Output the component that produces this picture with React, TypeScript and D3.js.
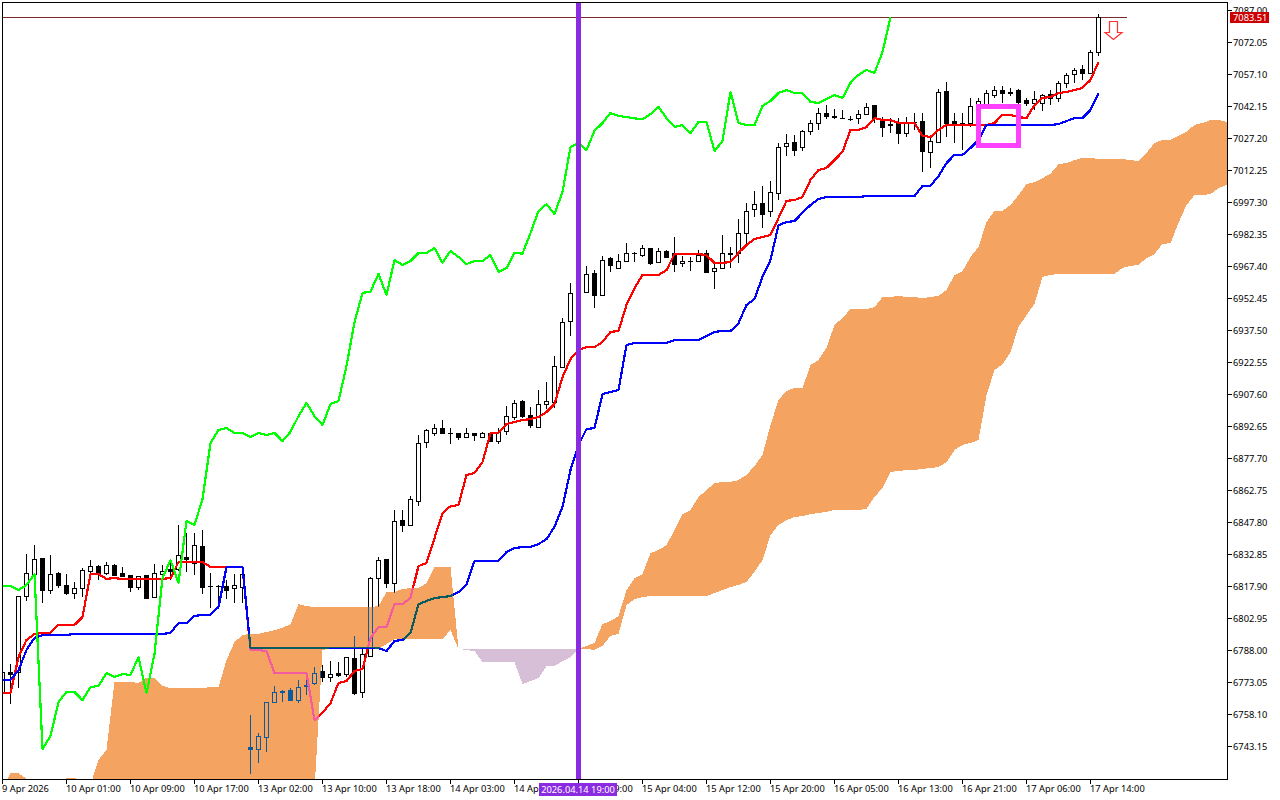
import React from "react";
import * as d3 from "d3";

const priceTicks = [7087.0,7072.05,7057.1,7042.15,7027.2,7012.25,6997.3,6982.35,6967.4,6952.45,6937.5,6922.55,6907.6,6892.65,6877.7,6862.75,6847.8,6832.85,6817.9,6802.95,6788.0,6773.05,6758.1,6743.15];
const timeLabels = ["9 Apr 2026","10 Apr 01:00","10 Apr 09:00","10 Apr 17:00","13 Apr 02:00","13 Apr 10:00","13 Apr 18:00","14 Apr 03:00","14 Apr 11:00","14 Apr 19:00","15 Apr 04:00","15 Apr 12:00","15 Apr 20:00","16 Apr 05:00","16 Apr 13:00","16 Apr 21:00","17 Apr 06:00","17 Apr 14:00"];
const barsPerLabel = 8;
const lastPrice = 7083.51;
const markerBar = 72;
const markerLabel = "2026.04.14 19:00";

const opens = [
6767.9,6777.7,6777.7,6813.2,6823.5,6831.0,6816.0,6824.0,6818.4,6814.6,
6816.9,6824.9,6827.2,6824.0,6827.7,6824.0,6823.0,6817.4,6823.0,6812.7,
6823.5,6825.8,6825.8,6831.4,6828.6,6836.6,6817.9,6817.9,6817.9,6816.9,
6817.4,6742.6,6741.7,6747.3,6763.7,6768.9,6769.3,6764.6,6771.6,6772.6,
6778.2,6775.4,6777.2,6776.8,6784.2,6768.4,6785.2,6821.6,6830.5,6819.3,
6848.7,6846.4,6857.6,6885.2,6889.4,6891.7,6889.4,6889.4,6887.5,6889.4,
6887.5,6889.4,6885.6,6890.3,6896.8,6904.3,6897.8,6892.2,6902.9,6903.9,
6920.2,6941.7,6955.0,6955.3,6964.2,6953.9,6971.2,6966.5,6969.7,6973.5,
6972.5,6975.8,6969.3,6974.4,6973.5,6968.8,6969.7,6969.7,6973.5,6965.0,
6966.4,6973.5,6973.5,6982.8,6994.0,6996.8,6993.1,7001.6,7023.5,7025.3,
7023.0,7030.5,7034.2,7038.9,7037.5,7036.5,7036.0,7036.5,7038.4,7042.6,
7035.1,7033.7,7034.7,7029.5,7034.7,7035.1,7020.7,7025.3,7049.2,7035.1,
7034.2,7034.2,7042.2,7042.7,7047.3,7049.6,7048.7,7049.6,7045.0,7043.6,
7043.6,7047.8,7045.9,7052.9,7057.1,7059.5,7057.6,7067.6];
const highs = [
6780.5,6781.4,6813.2,6832.8,6837.0,6831.0,6832.4,6824.5,6823.5,6819.8,
6826.3,6830.0,6827.7,6829.1,6828.2,6826.8,6823.0,6822.6,6823.0,6828.2,
6827.7,6829.1,6846.4,6842.6,6842.6,6844.0,6824.0,6818.4,6820.7,6823.5,
6823.5,6757.7,6749.2,6763.7,6771.2,6769.3,6770.2,6774.0,6774.0,6780.0,
6781.0,6782.8,6782.4,6784.7,6794.5,6788.5,6822.1,6831.4,6830.5,6853.4,
6853.4,6860.0,6888.5,6891.2,6893.6,6895.4,6891.7,6889.4,6891.7,6889.4,
6889.9,6889.4,6891.7,6902.0,6904.8,6904.8,6901.5,6909.5,6913.2,6925.4,
6943.1,6959.5,6958.0,6967.4,6965.5,6972.1,6971.6,6973.0,6978.1,6974.0,
6977.2,6975.8,6975.8,6974.9,6981.0,6972.1,6971.6,6974.9,6974.9,6968.3,
6981.9,6976.3,6989.4,6996.8,7002.4,7004.7,7007.2,7024.9,7029.1,7028.6,
7031.0,7035.6,7041.2,7042.6,7040.7,7040.3,7037.5,7040.3,7043.6,7042.6,
7037.0,7036.5,7036.5,7037.0,7038.9,7038.9,7027.7,7050.1,7053.4,7038.9,
7038.9,7045.9,7045.9,7049.6,7051.4,7051.4,7050.6,7050.1,7045.9,7049.2,
7047.8,7049.6,7053.8,7057.6,7059.9,7061.3,7068.3,7085.1];
const lows = [
6767.9,6762.8,6770.2,6811.0,6821.6,6809.9,6814.1,6816.9,6813.7,6811.8,
6812.7,6823.0,6820.7,6823.0,6822.6,6822.1,6815.1,6816.0,6811.8,6812.7,
6820.7,6820.7,6824.9,6824.5,6823.0,6814.1,6807.6,6808.0,6811.8,6809.9,
6810.0,6730.0,6735.2,6740.4,6763.2,6763.7,6764.1,6763.2,6766.9,6771.6,
6773.1,6773.1,6775.4,6775.4,6767.0,6765.5,6784.7,6808.0,6816.9,6814.6,
6843.1,6846.0,6855.2,6882.3,6888.0,6889.4,6884.2,6886.1,6887.0,6885.6,
6887.0,6885.1,6884.2,6888.5,6895.4,6896.4,6891.7,6891.7,6900.6,6901.0,
6919.7,6934.7,6950.0,6954.8,6947.8,6953.4,6964.6,6966.0,6969.3,6969.3,
6971.6,6967.9,6968.8,6971.1,6964.6,6966.9,6965.0,6969.3,6964.1,6956.6,
6966.0,6966.4,6968.8,6977.7,6990.3,6985.2,6990.3,6998.2,7018.9,7018.9,
7021.0,7028.6,7031.0,7036.0,7036.0,7036.3,7035.2,7033.7,7038.4,7034.2,
7027.7,7029.5,7024.4,7027.7,7031.0,7011.3,7013.2,7025.3,7027.7,7024.9,
7021.6,7032.3,7041.0,7041.0,7045.9,7043.6,7046.8,7042.6,7042.2,7040.3,
7040.0,7042.7,7044.0,7050.6,7052.9,7054.3,7057.0,7065.7];
const closes = [
6777.7,6776.8,6813.2,6824.0,6830.5,6816.0,6823.5,6818.4,6814.6,6816.9,
6825.4,6827.2,6824.0,6827.7,6823.0,6822.6,6817.4,6822.6,6812.3,6824.0,
6824.9,6824.9,6832.4,6830.5,6837.0,6817.4,6817.9,6818.0,6816.0,6818.4,
6823.5,6741.7,6747.8,6763.7,6768.4,6768.4,6764.6,6770.7,6771.2,6777.2,
6775.4,6776.8,6776.3,6784.7,6767.9,6786.1,6821.6,6830.0,6819.3,6848.3,
6846.4,6858.5,6884.7,6890.8,6891.7,6889.4,6889.4,6887.5,6889.4,6888.5,
6889.4,6885.6,6889.9,6897.3,6903.4,6897.3,6893.1,6902.9,6904.3,6920.7,
6941.2,6954.8,6955.5,6963.7,6953.9,6970.2,6967.9,6969.7,6973.5,6973.5,
6975.8,6968.8,6974.4,6971.6,6968.3,6969.7,6969.7,6972.5,6964.6,6966.4,
6973.5,6973.2,6982.8,6993.1,6996.3,6991.7,7002.0,7023.0,7024.9,7021.6,
7030.5,7034.2,7038.9,7037.5,7037.0,7036.4,7036.0,7038.4,7041.7,7036.5,
7032.4,7033.2,7029.5,7034.7,7034.7,7021.1,7025.8,7048.7,7034.2,7033.2,
7033.2,7042.2,7044.5,7048.2,7049.6,7048.2,7048.2,7044.0,7043.6,7045.4,
7047.3,7045.9,7052.9,7056.7,7059.0,7057.6,7067.4,7083.51];

const tenkan = [
6767.9,6767.9,6784.7,6792.7,6795.5,6796.0,6796.0,6799.7,6799.7,6799.7,
6803.4,6823.5,6823.5,6821.2,6821.6,6821.2,6821.2,6821.2,6821.2,6821.2,
6821.2,6821.6,6829.1,6829.1,6829.1,6829.1,6826.8,6826.8,6826.8,6826.8,
6826.8,6788.0,6788.0,6787.5,6777.2,6777.2,6777.2,6777.2,6777.2,6755.3,
6758.6,6763.2,6772.6,6773.5,6778.2,6779.1,6793.6,6798.7,6798.7,6809.4,
6809.4,6812.3,6827.2,6828.6,6840.3,6852.0,6855.2,6855.7,6869.8,6870.7,
6875.8,6889.4,6889.4,6893.6,6894.5,6895.4,6895.9,6896.8,6899.2,6902.9,
6915.5,6923.9,6928.1,6929.5,6929.5,6931.9,6936.6,6937.0,6949.2,6957.1,
6963.2,6963.2,6963.2,6965.5,6973.0,6973.0,6973.0,6973.0,6972.5,6968.8,
6968.8,6969.3,6973.5,6977.2,6980.0,6980.9,6981.9,6989.8,6997.8,6998.2,
6999.6,7007.6,7012.3,7013.2,7016.9,7020.7,7031.0,7031.0,7032.3,7036.5,
7035.6,7035.6,7034.2,7034.2,7034.2,7028.2,7027.7,7031.0,7033.3,7033.3,
7033.3,7033.3,7033.3,7033.3,7034.2,7038.0,7038.0,7037.0,7036.5,7042.6,
7045.9,7046.4,7048.2,7048.7,7049.6,7050.6,7054.3,7062.7];
const kijun = [
6774.0,6774.0,6778.6,6788.0,6793.6,6795.0,6795.0,6795.0,6795.0,6795.5,
6795.5,6795.5,6795.5,6795.5,6795.5,6795.5,6795.5,6795.5,6795.5,6795.5,
6795.5,6796.0,6800.6,6800.6,6803.9,6804.4,6804.4,6808.1,6826.8,6826.8,
6826.8,6788.9,6788.9,6788.9,6788.9,6788.9,6788.9,6788.9,6788.9,6788.9,
6788.9,6788.9,6788.9,6788.9,6788.9,6788.9,6788.9,6788.9,6787.5,6792.2,
6792.7,6796.0,6809.4,6810.9,6812.3,6812.7,6813.2,6815.1,6818.4,6829.6,
6829.6,6829.6,6829.6,6833.8,6835.6,6836.1,6836.1,6837.5,6839.8,6845.5,
6854.8,6872.1,6883.8,6891.2,6891.7,6907.6,6908.5,6909.5,6930.5,6931.4,
6931.4,6931.4,6931.4,6931.4,6932.8,6932.8,6932.8,6932.8,6934.7,6936.6,
6937.0,6937.0,6940.7,6949.2,6952.0,6962.3,6970.2,6986.5,6987.9,6988.4,
6992.2,6995.9,6998.7,6999.6,6999.6,6999.6,6999.6,6999.6,7000.1,7000.1,
7000.1,7000.1,7000.1,7000.1,7000.1,7004.8,7004.8,7009.4,7015.5,7019.3,
7019.3,7022.5,7026.3,7033.3,7033.3,7033.3,7033.3,7033.3,7033.3,7033.3,
7033.3,7033.3,7033.7,7035.1,7036.5,7036.5,7040.3,7048.2];
const chikou = [
6817.9,6818.0,6816.0,6818.4,6823.5,6741.7,6747.8,6763.7,6768.4,6768.4,
6764.6,6770.7,6771.2,6777.2,6775.4,6776.8,6776.3,6784.7,6767.9,6786.1,
6821.6,6830.0,6819.3,6848.3,6846.4,6858.5,6884.7,6890.8,6891.7,6889.4,
6889.4,6887.5,6889.4,6888.5,6889.4,6885.6,6889.9,6897.3,6903.4,6897.3,
6893.1,6902.9,6904.3,6920.7,6941.2,6954.8,6955.5,6963.7,6953.9,6970.2,
6967.9,6969.7,6973.5,6973.5,6975.8,6968.8,6974.4,6971.6,6968.3,6969.7,
6969.7,6972.5,6964.6,6966.4,6973.5,6973.2,6982.8,6993.1,6996.3,6991.7,
7002.0,7023.0,7024.9,7021.6,7030.5,7034.2,7038.9,7037.5,7037.0,7036.4,
7036.0,7038.4,7041.7,7036.5,7032.4,7033.2,7029.5,7034.7,7034.7,7021.1,
7025.8,7048.7,7034.2,7033.2,7033.2,7042.2,7044.5,7048.2,7049.6,7048.2,
7048.2,7044.0,7043.6,7045.4,7047.3,7045.9,7052.9,7056.7,7059.0,7057.6,
7067.4,7083.51];

const spanHigh = [
6722.6,6730.5,6730.5,6727.8,6717.9,6717.9,6717.9,6717.9,6728.2,6728.2,
6726.4,6725.0,6736.6,6741.3,6773.1,6773.1,6773.1,6772.6,6775.0,6775.0,
6771.2,6770.2,6770.2,6770.2,6770.2,6770.2,6770.7,6770.7,6783.3,6791.7,
6795.0,6795.5,6795.5,6796.4,6797.3,6798.3,6800.1,6809.4,6808.5,6808.1,
6808.1,6808.1,6808.1,6808.1,6808.1,6808.1,6808.1,6808.5,6815.1,6815.1,
6816.5,6816.9,6816.9,6819.3,6826.8,6826.8,6826.8,6788.5,6788.5,6788.5,
6788.5,6788.5,6788.5,6788.5,6788.5,6788.5,6788.5,6788.5,6788.5,6788.5,
6788.5,6788.5,6788.5,6789.9,6791.3,6800.1,6801.5,6803.9,6816.0,6821.6,
6823.5,6833.3,6834.7,6837.0,6844.0,6851.5,6853.4,6859.5,6862.7,6866.0,
6866.5,6866.5,6867.4,6869.8,6874.0,6879.1,6893.1,6904.8,6909.0,6910.4,
6910.4,6921.1,6923.5,6929.1,6939.9,6943.1,6947.3,6947.3,6947.3,6948.2,
6952.9,6952.9,6953.4,6952.9,6952.9,6952.4,6952.9,6953.4,6956.2,6963.2,
6965.0,6971.6,6976.3,6988.0,6993.1,6993.1,6995.9,7000.5,7005.7,7006.6,
7008.5,7010.4,7015.0,7015.5,7016.9,7017.9,7017.9,7017.4,7017.4,7017.4,
7017.4,7016.9,7016.4,7020.2,7024.9,7026.3,7026.3,7028.2,7030.1,7033.3,
7034.2,7035.6,7035.6,7034.7,7033.7];
const spanLow = [
6700,6700,6700,6700,6700,6700,6700,6700,6700,6700,
6700,6700,6700,6700,6700,6700,6700,6700,6700,6700,
6700,6700,6700,6700,6700,6700,6700,6700,6700,6700,
6700,6700,6700,6700,6700,6700,6700,6700,6700,6722.6,
6788.0,6788.9,6788.9,6788.9,6788.9,6788.9,6788.9,6788.5,6790.8,6793.1,
6793.1,6793.1,6793.1,6793.1,6793.1,6793.1,6797.3,6788.5,6788.0,6787.5,
6782.4,6782.4,6782.4,6782.4,6782.4,6772.1,6773.5,6774.9,6780.5,6780.5,
6782.8,6784.7,6788.5,6788.5,6788.0,6789.9,6794.6,6795.5,6809.0,6811.8,
6812.7,6813.2,6813.2,6813.2,6813.2,6813.2,6813.2,6813.2,6813.2,6814.6,
6816.0,6817.4,6818.4,6819.8,6824.5,6830.0,6841.7,6846.4,6848.7,6850.1,
6850.6,6851.5,6852.0,6852.5,6853.4,6853.4,6853.4,6853.4,6853.9,6859.5,
6863.7,6871.2,6871.6,6872.1,6872.1,6872.6,6873.0,6873.5,6875.8,6881.4,
6883.8,6884.7,6886.1,6907.1,6918.8,6921.6,6927.2,6938.9,6944.5,6949.7,
6962.3,6963.2,6963.7,6963.7,6963.7,6963.7,6963.7,6963.7,6963.7,6963.7,
6966.5,6967.4,6967.9,6971.1,6973.0,6977.7,6978.1,6987.5,6995.9,7000.5,
7000.5,7001.0,7003.8,7005.2,7006.6];
const thistleBars = [57, 72];

const x = d3.scaleLinear().domain([0, 137]).range([2.5, 1098.5]);
const y = d3.scaleLinear().domain([6743.15, 7087]).range([746, 10]);
const FONT = "'Noto Sans', sans-serif";
const FS = 9.3;
const LW = 2.2;

const seriesLine = d3.line<number>().x((_, i) => x(i)).y((d) => y(d));
type Span = { i: number; hi: number; lo: number };
const spans: Span[] = spanHigh.map((hi, i) => ({ i, hi, lo: spanLow[i] }));
const cloudArea = d3.area<Span>().x((d) => x(d.i)).y0((d) => y(d.lo)).y1((d) => y(d.hi));

export default function App() {
  const lastY = Math.round(y(lastPrice));
  const markerX = Math.floor(x(markerBar)) - 2;
  const topCloudA = spans.slice(0, thistleBars[0] + 1);
  const thistle = spans.slice(thistleBars[0], thistleBars[1] + 1);
  const topCloudB = spans.slice(thistleBars[1]);
  return (
    <svg width={1280} height={800} style={{ position: "absolute", left: 0, top: 0, display: "block", background: "#fff" }}>
      <defs>
        <clipPath id="plot"><rect x={3} y={3} width={1224} height={776} /></clipPath>
      </defs>
      <g clipPath="url(#plot)">
        <rect x={0} y={0} width={1280} height={800} fill="#fff" />
        <line x1={3} x2={1127} y1={lastY + 0.5} y2={lastY + 0.5} stroke="#7d2a2a" strokeWidth={1} shapeRendering="crispEdges" />
        {opens.map((o, i) => {
          const c = closes[i];
          const cx = Math.floor(x(i)) + 0.5;
          const top = Math.round(y(Math.max(o, c)));
          const bot = Math.round(y(Math.min(o, c)));
          return (
            <g key={i} shapeRendering="crispEdges">
              <line x1={cx} x2={cx} y1={Math.round(y(highs[i]))} y2={Math.round(y(lows[i]))} stroke="#000" strokeWidth={1} />
              {top === bot ? (
                <line x1={cx - 2.5} x2={cx + 2.5} y1={top + 0.5} y2={top + 0.5} stroke="#000" strokeWidth={1} />
              ) : (
                <rect x={cx - 2} y={top + 0.5} width={4} height={bot - top} fill={c >= o ? "#fff" : "#000"} stroke="#000" strokeWidth={1} />
              )}
            </g>
          );
        })}
        <path d={seriesLine(tenkan) ?? ""} fill="none" stroke="#ff0000" strokeWidth={LW} strokeLinejoin="round" shapeRendering="crispEdges" />
        <path d={seriesLine(kijun) ?? ""} fill="none" stroke="#0000ff" strokeWidth={LW} strokeLinejoin="round" shapeRendering="crispEdges" />
        <path d={cloudArea(topCloudA) ?? ""} fill="#0b5b9f" shapeRendering="crispEdges" style={{ mixBlendMode: "difference" }} />
        <path d={cloudArea(topCloudB) ?? ""} fill="#0b5b9f" shapeRendering="crispEdges" style={{ mixBlendMode: "difference" }} />
        <path d={cloudArea(thistle) ?? ""} fill="#274027" shapeRendering="crispEdges" style={{ mixBlendMode: "difference" }} />
        <path d={seriesLine(chikou) ?? ""} fill="none" stroke="#00ff00" strokeWidth={LW} strokeLinejoin="round" shapeRendering="crispEdges" />
        <rect x={markerX} y={0} width={5} height={779} fill="#8a2be2" shapeRendering="crispEdges" />
        <rect x={978.5} y={106.5} width={40} height={38.5} fill="none" stroke="#ff40ff" strokeWidth={5} shapeRendering="crispEdges" />
        <path d="M1109.5,21.5 L1117.5,21.5 L1117.5,32.5 L1122,32.5 L1113.5,39.5 L1105,32.5 L1109.5,32.5 Z" fill="#fff" stroke="#ff3030" strokeWidth={1.2} />
      </g>
      <g stroke="#000" strokeWidth={1} shapeRendering="crispEdges">
        <line x1={2.5} x2={2.5} y1={2} y2={780} />
        <line x1={2} x2={1228} y1={2.5} y2={2.5} />
        <line x1={1227.5} x2={1227.5} y1={2} y2={780} />
        <line x1={2} x2={1228} y1={779.5} y2={779.5} />
        {priceTicks.map((p) => (
          <line key={p} x1={1228} x2={1232} y1={Math.round(y(p)) + 0.5} y2={Math.round(y(p)) + 0.5} />
        ))}
        {timeLabels.map((t, i) => {
          const tx = Math.floor(x(i * barsPerLabel)) + 0.5;
          return <line key={t} x1={tx} x2={tx} y1={780} y2={784} />;
        })}
      </g>
      <g fontFamily={FONT} fontSize={FS} fill="#000">
        {priceTicks.map((p) => (
          <text key={p} x={1233} y={y(p) + 4.2}>{p.toFixed(2)}</text>
        ))}
        {timeLabels.map((t, i) => (
          <text key={t} x={x(i * barsPerLabel) - 0.5} y={792}>{t}</text>
        ))}
      </g>
      <rect x={1230} y={12} width={39} height={11} fill="#cc0000" shapeRendering="crispEdges" />
      <text x={1233} y={y(lastPrice) + 3.6} fontFamily={FONT} fontSize={FS} fill="#fff">{lastPrice.toFixed(2)}</text>
      <rect x={539} y={783} width={78} height={13} fill="#8a2be2" shapeRendering="crispEdges" />
      <text x={578} y={792.5} textAnchor="middle" fontFamily={FONT} fontSize={FS} fill="#fff">{markerLabel}</text>
    </svg>
  );
}
